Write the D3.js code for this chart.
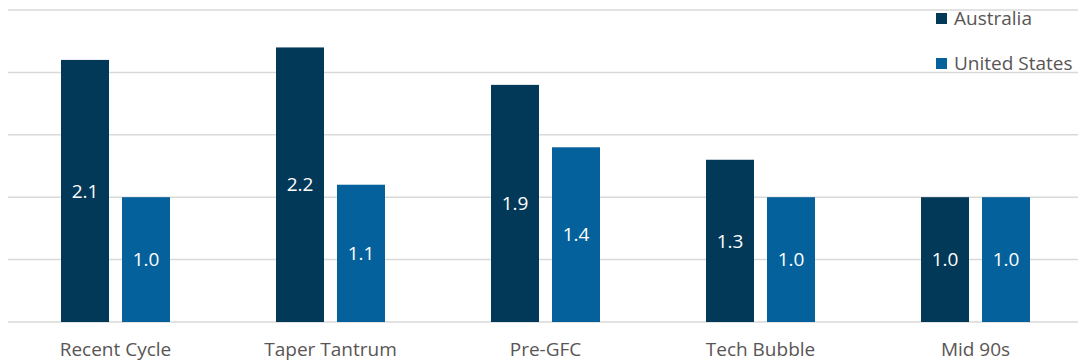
<!DOCTYPE html>
<html>
<head>
<meta charset="utf-8">
<script src="https://cdn.jsdelivr.net/npm/d3@7"></script>
<style>
  body { margin: 0; background: #fff; }
  text { font-family: "Open Sans", "DejaVu Sans", sans-serif; }
</style>
</head>
<body>
<svg id="chart" width="1083" height="362"></svg>
<script>
// data
var categories = ["Recent Cycle", "Taper Tantrum", "Pre-GFC", "Tech Bubble", "Mid 90s"]
var seriesNames = ["Australia", "United States"]
var australia = [2.1, 2.2, 1.9, 1.3, 1.0]
var unitedStates = [1.0, 1.1, 1.4, 1.0, 1.0]
var gridTicks = [0, 0.5, 1.0, 1.5, 2.0, 2.5]
var colors = ["#023858", "#05619c"]

var svg = d3.select("#chart")

var x = d3.scaleBand().domain(categories).range([8, 1083]).paddingInner(0).paddingOuter(0)
var y = d3.scaleLinear().domain([0, 2.5]).range([322, 10])

// gridlines
svg.append("g").selectAll("line").data(gridTicks).join("line")
    .attr("x1", 8).attr("x2", 1078)
    .attr("y1", d => y(d)).attr("y2", d => y(d))
    .style("stroke", "#d9d9d9").style("stroke-width", 1.5)

var barW = 48, gap = 13
var series = [australia, unitedStates]

series.forEach(function(vals, s){
    var g = svg.append("g").attr("class", "series" + s)
    var rows = categories.map((c, i) => ({cat: c, v: vals[i]}))
    var bx = d => x(d.cat) + x.bandwidth()/2 - (barW + gap/2) + s*(barW + gap)
    g.selectAll("rect").data(rows).join("rect")
        .attr("x", bx)
        .attr("y", d => y(d.v))
        .attr("width", barW)
        .attr("height", d => y(0) - y(d.v))
        .style("fill", colors[s])
    g.selectAll("text").data(rows).join("text")
        .attr("x", d => bx(d) + barW/2)
        .attr("y", d => (y(d.v) + y(0))/2)
        .attr("dy", "0.35em")
        .attr("text-anchor", "middle")
        .style("fill", "#fff").style("font-size", "19px")
        .text(d => d.v.toFixed(1))
})

// category labels
svg.append("g").selectAll("text").data(categories).join("text")
    .attr("x", d => x(d) + x.bandwidth()/2)
    .attr("y", 349).attr("dy", "0.35em")
    .attr("text-anchor", "middle")
    .style("fill", "#5a5555").style("font-size", "19px")
    .text(d => d)

// legend
var legend = svg.append("g").selectAll("g").data(seriesNames).join("g")
    .attr("transform", (d, i) => "translate(936," + (13 + i*45) + ")")
legend.append("rect").attr("width", 11).attr("height", 11).style("fill", (d, i) => colors[i])
legend.append("text").attr("x", 18).attr("y", 5.5).attr("dy", "0.35em")
    .style("fill", "#5a5555").style("font-size", "19px")
    .text(d => d)
</script>
</body>
</html>
